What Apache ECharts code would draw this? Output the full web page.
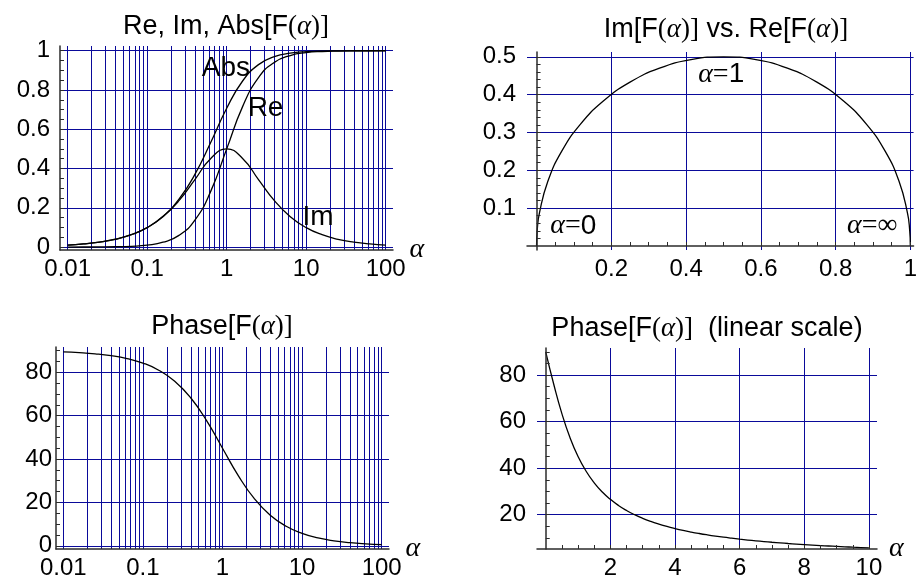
<!DOCTYPE html>
<html>
<head>
<meta charset="utf-8">
<script src="https://cdn.jsdelivr.net/npm/echarts@6/dist/echarts.min.js"></script>
<style>
html, body { margin: 0; padding: 0; background: #fff; }
#chart { width: 920px; height: 580px; }
</style>
</head>
<body>
<div id="chart"></div>
<script>
// alpha samples for the log panels (5 per decade) and the values
var alphaLog = [0.01, 0.0158, 0.0251, 0.0398, 0.0631, 0.1, 0.158, 0.251, 0.398, 0.631, 1,
    1.585, 2.512, 3.981, 6.31, 10, 15.85, 25.12, 39.81, 63.1, 100];
var reVals = [0.0001, 0.00025, 0.00063, 0.00158, 0.00397, 0.0099, 0.0245, 0.0594, 0.1368, 0.2848, 0.5,
    0.7152, 0.8632, 0.9406, 0.9755, 0.9901, 0.996, 0.9984, 0.9994, 0.9997, 0.9999];
var imVals = [0.01, 0.0158, 0.0251, 0.0397, 0.0628, 0.099, 0.1546, 0.2363, 0.3437, 0.4513, 0.5,
    0.4513, 0.3437, 0.2363, 0.1546, 0.099, 0.0628, 0.0397, 0.0251, 0.0158, 0.01];
var absVals = [0.01, 0.0158, 0.0251, 0.0398, 0.063, 0.0995, 0.1565, 0.2436, 0.3699, 0.5336, 0.7071,
    0.8457, 0.9291, 0.9699, 0.9877, 0.995, 0.998, 0.9992, 0.9997, 0.9999, 1];
var phaseLog = [89.43, 89.09, 88.56, 87.72, 86.39, 84.29, 80.99, 75.9, 68.29, 57.75, 45,
    32.25, 21.71, 14.1, 9.01, 5.71, 3.61, 2.28, 1.44, 0.91, 0.57];
// Im vs Re: points read along the half circle
var reArc = [0, 0.0019, 0.0076, 0.0302, 0.067, 0.117, 0.1786, 0.25, 0.329, 0.4132, 0.5,
    0.5868, 0.671, 0.75, 0.8214, 0.883, 0.933, 0.9698, 0.9924, 0.9981, 1];
var imArc = [0, 0.0436, 0.0868, 0.171, 0.25, 0.3214, 0.383, 0.433, 0.4698, 0.4924, 0.5,
    0.4924, 0.4698, 0.433, 0.383, 0.3214, 0.25, 0.171, 0.0868, 0.0436, 0];
// linear panel
var alphaLin = [0, 0.25, 0.5, 0.75, 1, 1.25, 1.5, 1.75, 2, 2.25, 2.5, 2.75, 3, 3.25, 3.5, 3.75, 4, 4.25, 4.5, 4.75,
    5, 5.25, 5.5, 5.75, 6, 6.25, 6.5, 6.75, 7, 7.25, 7.5, 7.75, 8, 8.25, 8.5, 8.75, 9, 9.25, 9.5, 9.75, 10];
var phaseLin = [90, 75.96, 63.43, 53.13, 45, 38.66, 33.69, 29.74, 26.57, 23.96, 21.8, 19.98, 18.43, 17.1, 15.95, 14.93,
    14.04, 13.24, 12.53, 11.89, 11.31, 10.78, 10.3, 9.87, 9.46, 9.09, 8.75, 8.43, 8.13, 7.85, 7.59, 7.35,
    7.13, 6.91, 6.71, 6.52, 6.34, 6.17, 6.01, 5.86, 5.71];

// grid lines / tick labels
var gridLog = [0.01, 0.02, 0.03, 0.04, 0.05, 0.06, 0.07, 0.08, 0.09,
    0.1, 0.2, 0.3, 0.4, 0.5, 0.6, 0.7, 0.8, 0.9,
    1, 2, 3, 4, 5, 6, 7, 8, 9,
    10, 20, 30, 40, 50, 60, 70, 80, 90, 100];
var labelsLog = [0.01, 0.1, 1, 10, 100];
var labelsY1 = [0, 0.2, 0.4, 0.6, 0.8, 1];
var ticksY1 = [0, 0.05, 0.1, 0.15, 0.2, 0.25, 0.3, 0.35, 0.4, 0.45, 0.5, 0.55, 0.6, 0.65, 0.7, 0.75, 0.8, 0.85, 0.9, 0.95, 1];
var labelsX2 = [0.2, 0.4, 0.6, 0.8, 1];
var ticksX2 = [0.05, 0.1, 0.15, 0.2, 0.25, 0.3, 0.35, 0.4, 0.45, 0.5, 0.55, 0.6, 0.65, 0.7, 0.75, 0.8, 0.85, 0.9, 0.95, 1];
var labelsY2 = [0.1, 0.2, 0.3, 0.4, 0.5];
var ticksY2 = [0.02, 0.04, 0.06, 0.08, 0.1, 0.12, 0.14, 0.16, 0.18, 0.2, 0.22, 0.24, 0.26, 0.28, 0.3,
    0.32, 0.34, 0.36, 0.38, 0.4, 0.42, 0.44, 0.46, 0.48, 0.5];
var labelsY3 = [0, 20, 40, 60, 80];
var ticksY3 = [0, 5, 10, 15, 20, 25, 30, 35, 40, 45, 50, 55, 60, 65, 70, 75, 80, 85, 90];
var labelsX4 = [2, 4, 6, 8, 10];
var ticksX4 = [0.5, 1, 1.5, 2, 2.5, 3, 3.5, 4, 4.5, 5, 5.5, 6, 6.5, 7, 7.5, 8, 8.5, 9, 9.5, 10];
var labelsY4 = [20, 40, 60, 80];
var ticksY4 = [10, 15, 20, 25, 30, 35, 40, 45, 50, 55, 60, 65, 70, 75, 80, 85, 90];

var SANS = 'Liberation Sans, Arial, sans-serif';
var SERIF = 'Liberation Serif, Times New Roman, serif';
var GRIDCOLOR = '#0a0a9a';

function zip(xs, ys) {
    return xs.map(function (x, i) { return [x, ys[i]]; });
}
// markLine grid lines
function gridLines(xs, ys) {
    var d = [];
    xs.forEach(function (v) { d.push({ xAxis: v }); });
    ys.forEach(function (v) { d.push({ yAxis: v }); });
    return {
        silent: true, z: 1, animation: false,
        symbol: ['none', 'none'],
        label: { show: false },
        emphasis: { disabled: true },
        lineStyle: { color: GRIDCOLOR, width: 1, type: 'solid', opacity: 1 },
        data: d
    };
}
function richSet(size) {
    return {
        s: { fontFamily: SANS, fontSize: size, fontWeight: 'normal', color: '#000', lineHeight: size + 4 },
        r: { fontFamily: SERIF, fontSize: size, fontWeight: 'normal', color: '#000', lineHeight: size + 4 },
        i: { fontFamily: SERIF, fontSize: size, fontWeight: 'normal', fontStyle: 'italic', color: '#000', lineHeight: size + 4 }
    };
}
var titleRich = richSet(27);
var noteRich = richSet(28);
function title(text, x, y) {
    return { text: text, left: x, top: y, textAlign: 'center', padding: 0,
        textStyle: { fontWeight: 'normal', fontSize: 27, rich: titleRich } };
}
function note(text, coord) {
    return { coord: coord, label: { show: true, position: 'inside', formatter: text, rich: noteRich } };
}
function marks(list) {
    return { symbol: 'circle', symbolSize: 1, itemStyle: { color: 'rgba(0,0,0,0)' },
        silent: true, animation: false, data: list };
}

var axisLineStyle = { color: '#2b2b2b', width: 1.5 };
var labelStyle = { fontFamily: SANS, fontSize: 24, color: '#000' };
var alphaName = { fontFamily: SERIF, fontStyle: 'italic', fontSize: 28, color: '#000', padding: [0, 0, 4, 0] };

function logX(grid, min, max) {
    return {
        type: 'log', logBase: 10, gridIndex: grid, min: min, max: max,
        axisLine: { onZero: false, lineStyle: axisLineStyle },
        axisTick: { show: false }, splitLine: { show: false },
        axisLabel: Object.assign({ margin: 7, customValues: labelsLog,
            formatter: function (v) { return String(+(+v).toPrecision(6)); } }, labelStyle),
        name: 'α', nameLocation: 'end', nameGap: 12, nameTextStyle: alphaName, z: 5
    };
}
function valAxis(grid, min, max, labels, ticks, onZero, margin, extra) {
    return Object.assign({
        type: 'value', gridIndex: grid, min: min, max: max,
        axisLine: { onZero: onZero, lineStyle: axisLineStyle },
        axisTick: { show: true, inside: true, length: 4, customValues: ticks, lineStyle: { color: '#2b2b2b' } },
        splitLine: { show: false },
        axisLabel: Object.assign({ margin: margin, customValues: labels }, labelStyle),
        z: 5
    }, extra || {});
}

var lineBase = { type: 'line', symbol: 'none', showSymbol: false, z: 3, silent: true, animation: false,
    lineStyle: { color: '#000', width: 1.3 } };
function line(xi, yi, data, extra) {
    return Object.assign({}, lineBase, { xAxisIndex: xi, yAxisIndex: yi, data: data }, extra || {});
}

var option = {
    backgroundColor: '#fff',
    animation: false,
    title: [
        title('{s|Re, Im, Abs[F}{r|(}{i|α}{r|)]}', 226, 11),
        title('{s|Im[F}{r|(}{i|α}{r|)]}{s| vs. Re[F}{r|(}{i|α}{r|)]}', 726, 14),
        title('{s|Phase[F}{r|(}{i|α}{r|)]}', 222, 311),
        title('{s|Phase[F}{r|(}{i|α}{r|)]}{s|  (linear scale)}', 707, 313)
    ],
    grid: [
        { left: 60, top: 46, width: 333, height: 204 },
        { left: 527, top: 52, width: 392, height: 198 },
        { left: 56, top: 347, width: 333, height: 206 },
        { left: 537, top: 348, width: 340, height: 205 }
    ],
    xAxis: [
        logX(0, 0.008, 123.6),
        valAxis(1, -0.0256, 1.0087, labelsX2, ticksX2, true, 7),
        logX(2, 0.00809, 123.6),
        valAxis(3, -0.27, 10.25, labelsX4, ticksX4, false, 7,
            { name: 'α', nameLocation: 'end', nameGap: 12, nameTextStyle: alphaName })
    ],
    yAxis: [
        valAxis(0, -0.015, 1.024, labelsY1, ticksY1, false, 10),
        valAxis(1, -0.0106, 0.5127, labelsY2, ticksY2, true, 11),
        valAxis(2, -1.49, 91.7, labelsY3, ticksY3, false, 4),
        valAxis(3, 5.23, 91.65, labelsY4, ticksY4, true, 11)
    ],
    series: [
        line(0, 0, zip(alphaLog, reVals), {
            smooth: 0.5,
            markLine: gridLines(gridLog, labelsY1),
            markPoint: marks([note('{s|Re}', [3.08, 0.708])])
        }),
        line(0, 0, zip(alphaLog, imVals), {
            smooth: 0.5,
            markPoint: marks([note('{s|Im}', [14.1, 0.153])])
        }),
        line(0, 0, zip(alphaLog, absVals), {
            smooth: 0.5,
            markPoint: marks([note('{s|Abs}', [0.98, 0.912])])
        }),
        line(1, 1, zip(reArc, imArc), {
            smooth: 0.5,
            markLine: gridLines(labelsX2, labelsY2),
            markPoint: marks([
                note('{i|α}{r|=}{s|0}', [0.0985, 0.0528]),
                note('{i|α}{r|=}{s|1}', [0.494, 0.454]),
                note('{i|α}{r|=∞}', [0.898, 0.0528])
            ])
        }),
        line(2, 2, zip(alphaLog, phaseLog), {
            smooth: 0.5,
            markLine: gridLines(gridLog, labelsY3)
        }),
        line(3, 3, zip(alphaLin, phaseLin), {
            smooth: 0.5,
            markLine: gridLines(labelsX4, labelsY4)
        })
    ]
};

var chart = echarts.init(document.getElementById('chart'), null, { renderer: 'canvas' });
chart.setOption(option);
</script>
</body>
</html>
